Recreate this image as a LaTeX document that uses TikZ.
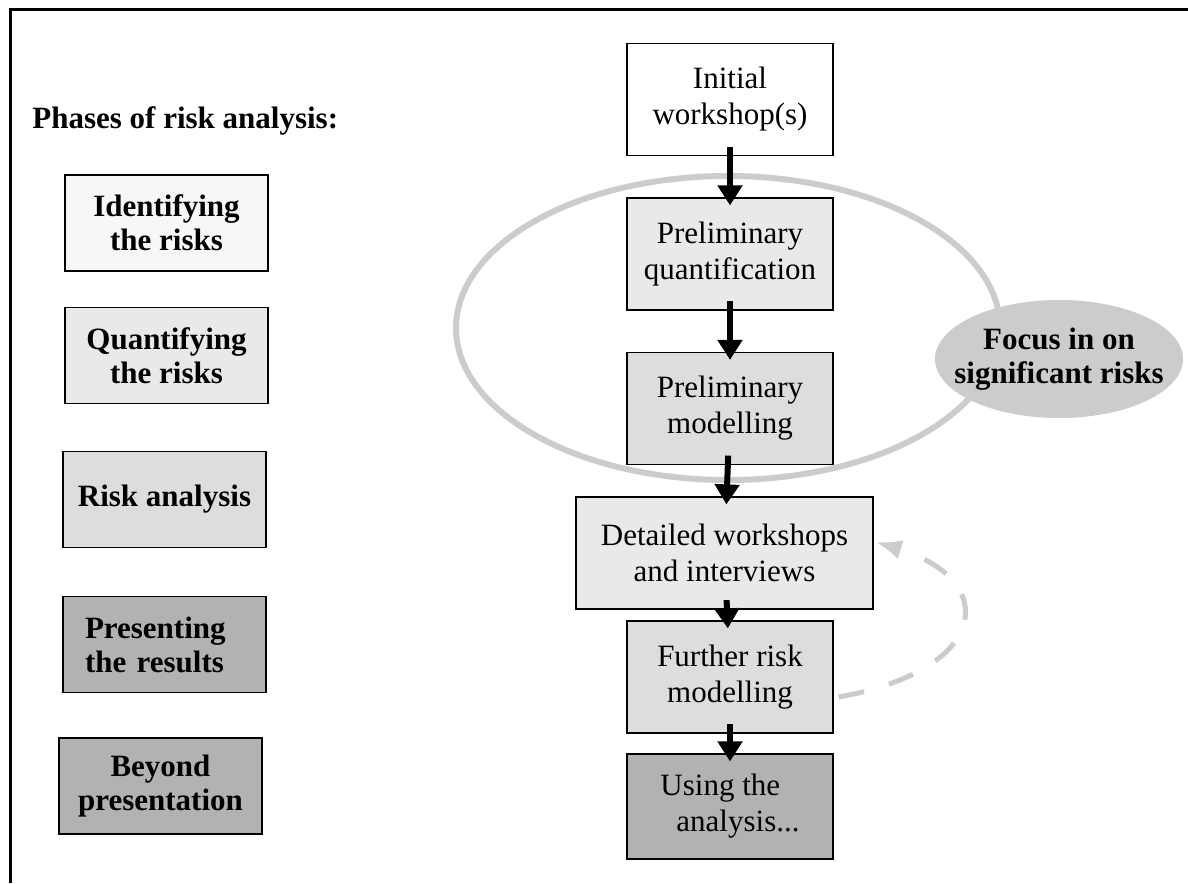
\documentclass[tikz,border=0pt]{standalone}
\usepackage{fontspec}
\setmainfont{Liberation Serif}
\usepackage{tikz}
\usetikzlibrary{arrows.meta}
\definecolor{shadeA}{HTML}{F7F7F7}
\definecolor{shadeB}{HTML}{E9E9E9}
\definecolor{shadeC}{HTML}{DDDDDD}
\definecolor{shadeD}{HTML}{B2B2B2}
\definecolor{ringgray}{HTML}{CCCCCC}
\tikzset{
  font={\fontsize{15.5pt}{18pt}\selectfont},
  phase/.style={draw=black, line width=0.6pt, inner sep=0pt, align=center,
    minimum width=101.5pt, minimum height=48pt, font={\fontsize{15.5pt}{17pt}\selectfont\bfseries}},
  stage/.style={draw=black, line width=0.6pt, inner sep=0pt, align=center,
    minimum width=103pt, minimum height=56pt},
  flow/.style={line width=3pt, -{Triangle[length=10pt,width=12pt]},
    shorten <=-4.75pt, shorten >=-4pt},
  loopback/.style={ringgray, line width=2.5pt, dash pattern=on 13pt off 13pt,
    -{Latex[length=13pt,width=10pt]}},
}

\begin{document}
\begin{tikzpicture}[x=0.5pt, y=-0.5pt]
\useasboundingbox (0,0) rectangle (1188,883);
%% frame, only top and left edges show
\draw[line width=1.5pt] (10,883) -- (10,10) -- (1188,10);

%% left column: the phases
\node[anchor=base west, inner sep=0pt, font={\fontsize{15.5pt}{17pt}\selectfont\bfseries}] (title) at (32,128) {Phases of risk analysis:};
\node[phase, fill=shadeA] (ident) at (166.5,223) {Identifying\\the risks};
\node[phase, fill=shadeB] (quant) at (166.5,355.5) {Quantifying\\the risks};
\node[phase, fill=shadeC] (riskan) at (164.5,499.5) {Risk analysis};
\node[phase, fill=shadeD, align=left, text width=79.5pt, inner xsep=11pt] (present) at (164.5,644.5) {Presenting\\the results};
\node[phase, fill=shadeD] (beyond) at (160.5,786) {Beyond\\presentation};

%% the ring round the preliminary steps
\draw[ringgray, line width=3pt] (728,328) ellipse [x radius=136pt, y radius=76pt];

%% right column: the process
\node[stage, fill=white] (init) at (730,99.5) {Initial\\workshop(s)};
\node[stage, fill=shadeB] (pquant) at (730,254) {Preliminary\\quantification};
\node[stage, fill=shadeC] (pmodel) at (730,408.5) {Preliminary\\modelling};
\node[stage, fill=shadeB, minimum width=148.5pt] (detail) at (724.5,553) {Detailed workshops\\and interviews};
\node[stage, fill=shadeC] (further) at (730,677) {Further risk\\modelling};
\node[stage, fill=shadeD, minimum height=52.5pt, align=left] (using) at (730,806.5) {Using the\\\hspace*{8pt}analysis...};

\draw[flow] (init) -- (pquant);
\draw[flow] (pquant) -- (pmodel);
\draw[flow] (pmodel) -- (detail);
\draw[flow] (detail) -- (further);
\draw[flow] (further) -- (using);

%% feedback loop
\draw[loopback] ([xshift=2.5pt,yshift=-10pt]further.east) .. controls +(152,-27) and +(125,38) .. ([xshift=1pt,yshift=5.5pt]detail.east);

%% callout
\fill[ringgray] (1059,359) ellipse [x radius=62pt, y radius=29.5pt];
\node[align=center, font={\fontsize{15.5pt}{17pt}\selectfont\bfseries}] (focus) at (1059,359) {Focus in on\\significant risks};
\end{tikzpicture}
\end{document}
